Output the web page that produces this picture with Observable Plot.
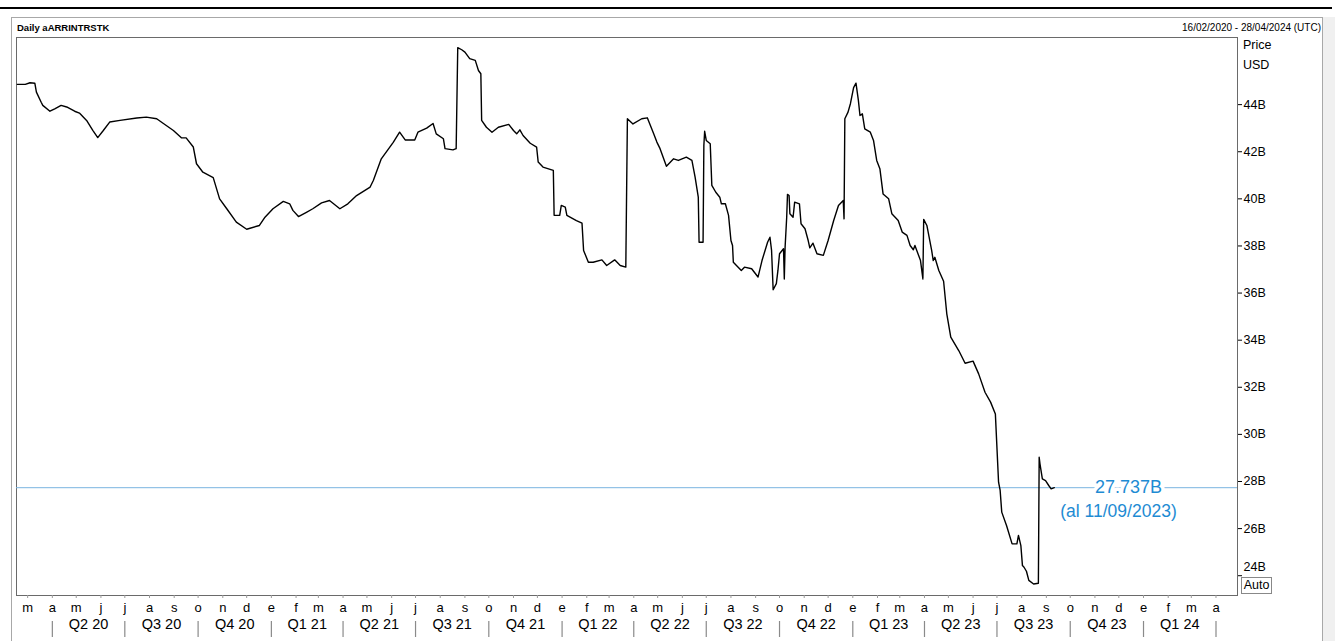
<!DOCTYPE html>
<html><head><meta charset="utf-8">
<script src="https://cdn.jsdelivr.net/npm/d3@7"></script>
<script src="https://cdn.jsdelivr.net/npm/@observablehq/plot@0.6"></script>
<style>
body{margin:0;background:#fff;font-family:"Liberation Sans",Arial,sans-serif;color:#000;}
#wrap{position:relative;width:1335px;height:641px;overflow:hidden;background:#fff;}
.abs{position:absolute;white-space:nowrap;}
</style></head><body>
<div id="wrap">
 <div class="abs" style="left:0;top:6.5px;width:1332px;height:2px;background:#000"></div>
 <div class="abs" style="left:11px;top:17px;width:1310px;height:700px;border:1px solid #a8a8a8;"></div>
 <div class="abs" style="left:1323px;top:17px;width:12px;height:700px;background:#f0f0f0"></div>
 <div id="chart" class="abs" style="left:0;top:0"></div>
 <div class="abs" style="left:17px;top:22px;font-size:9.5px;font-weight:bold;line-height:12px">Daily aARRINTRSTK</div>
 <div class="abs" style="right:14px;top:22px;font-size:10px;line-height:12px">16/02/2020 - 28/04/2024 (UTC)</div>
 <div class="abs" style="left:1243px;top:37px;font-size:12.5px;line-height:16px">Price</div>
 <div class="abs" style="left:1243px;top:57px;font-size:12.5px;line-height:16px">USD</div>
 <div class="abs" style="left:1241px;top:577px;width:29px;height:15px;border:1px solid #888;background:#fff;font-size:12.5px;line-height:15px;text-align:center">Auto</div>
</div>
<script>
const dates = ["2020-02-17","2020-02-27","2020-03-04","2020-03-10","2020-03-12","2020-03-18","2020-03-20","2020-03-29","2020-04-04","2020-04-12","2020-04-19","2020-04-29","2020-05-05","2020-05-14","2020-05-22","2020-05-28","2020-06-04","2020-06-12","2020-06-25","2020-07-16","2020-07-28","2020-08-10","2020-08-18","2020-08-31","2020-09-10","2020-09-16","2020-09-25","2020-09-29","2020-10-07","2020-10-20","2020-10-28","2020-11-06","2020-11-18","2020-12-01","2020-12-17","2020-12-24","2021-01-03","2021-01-16","2021-01-24","2021-01-28","2021-02-04","2021-02-14","2021-02-22","2021-03-05","2021-03-15","2021-03-28","2021-04-07","2021-04-18","2021-05-05","2021-05-09","2021-05-19","2021-06-03","2021-06-11","2021-06-18","2021-06-30","2021-07-04","2021-07-15","2021-07-23","2021-07-27","2021-08-05","2021-08-07","2021-08-17","2021-08-21","2021-08-23","2021-08-28","2021-09-01","2021-09-07","2021-09-14","2021-09-18","2021-09-21","2021-09-22","2021-09-28","2021-10-05","2021-10-13","2021-10-26","2021-11-01","2021-11-05","2021-11-09","2021-11-13","2021-11-22","2021-11-30","2021-12-02","2021-12-08","2021-12-21","2021-12-22","2021-12-29","2021-12-31","2022-01-05","2022-01-07","2022-01-19","2022-01-26","2022-01-28","2022-02-03","2022-02-09","2022-02-20","2022-02-26","2022-03-08","2022-03-15","2022-03-22","2022-03-24","2022-03-31","2022-04-11","2022-04-18","2022-04-26","2022-04-30","2022-05-04","2022-05-12","2022-05-21","2022-05-27","2022-06-06","2022-06-13","2022-06-17","2022-06-21","2022-06-22","2022-06-27","2022-06-28","2022-06-29","2022-07-01","2022-07-06","2022-07-08","2022-07-13","2022-07-18","2022-07-20","2022-07-25","2022-07-29","2022-08-01","2022-08-03","2022-08-04","2022-08-14","2022-08-18","2022-08-27","2022-09-04","2022-09-09","2022-09-16","2022-09-19","2022-09-21","2022-09-23","2022-09-27","2022-09-29","2022-10-01","2022-10-06","2022-10-07","2022-10-08","2022-10-10","2022-10-11","2022-10-13","2022-10-14","2022-10-18","2022-10-20","2022-10-26","2022-10-28","2022-11-02","2022-11-06","2022-11-08","2022-11-12","2022-11-17","2022-11-25","2022-12-01","2022-12-08","2022-12-14","2022-12-20","2022-12-21","2022-12-22","2022-12-26","2022-12-29","2023-01-02","2023-01-05","2023-01-08","2023-01-10","2023-01-13","2023-01-16","2023-01-23","2023-01-27","2023-01-31","2023-02-04","2023-02-08","2023-02-15","2023-02-19","2023-02-27","2023-03-04","2023-03-10","2023-03-14","2023-03-18","2023-03-20","2023-03-27","2023-03-30","2023-03-31","2023-04-04","2023-04-10","2023-04-12","2023-04-14","2023-04-19","2023-04-25","2023-04-29","2023-05-04","2023-05-14","2023-05-22","2023-06-01","2023-06-08","2023-06-16","2023-06-23","2023-06-29","2023-07-03","2023-07-05","2023-07-07","2023-07-13","2023-07-20","2023-07-26","2023-07-28","2023-07-31","2023-08-02","2023-08-04","2023-08-07","2023-08-10","2023-08-16","2023-08-22","2023-08-23","2023-08-24","2023-08-27","2023-08-31","2023-09-04","2023-09-07","2023-09-11"];
const values = [44.86,44.86,44.93,44.91,44.53,44.10,43.97,43.72,43.82,43.97,43.90,43.72,43.64,43.33,42.90,42.60,42.90,43.26,43.33,43.43,43.47,43.40,43.21,42.90,42.59,42.59,42.20,41.49,41.13,40.90,40.00,39.58,39.01,38.71,38.87,39.22,39.58,39.89,39.79,39.51,39.25,39.43,39.58,39.83,39.93,39.58,39.79,40.14,40.50,40.78,41.70,42.40,42.83,42.50,42.50,42.83,43.00,43.20,42.76,42.55,42.13,42.08,42.13,46.42,46.33,46.23,45.95,45.88,45.45,45.31,43.33,43.04,42.83,43.04,43.16,42.90,42.76,42.93,42.69,42.36,42.20,41.56,41.35,41.21,39.30,39.30,39.72,39.65,39.30,39.08,38.97,37.81,37.31,37.31,37.41,37.17,37.41,37.17,37.10,43.40,43.18,43.40,43.44,42.76,42.41,42.13,41.38,41.70,41.63,41.77,41.63,40.92,40.07,38.16,38.16,42.27,42.87,42.48,42.34,40.57,40.28,40.07,39.79,39.79,39.30,38.23,38.02,37.31,36.96,37.10,37.03,36.68,37.38,38.16,38.37,37.81,36.14,36.40,36.96,37.67,37.88,36.60,37.95,39.22,40.19,40.14,39.37,39.22,39.86,39.79,38.94,38.73,38.23,37.92,38.12,37.67,37.60,38.23,39.08,39.72,39.93,39.15,43.40,43.68,44.04,44.72,44.91,44.18,43.54,43.61,42.97,42.83,42.48,41.63,41.28,40.21,40.00,39.37,39.08,38.59,38.45,38.02,37.84,38.02,37.38,36.60,39.13,38.87,37.81,37.38,37.52,36.96,36.50,35.12,34.13,33.56,33.02,33.11,32.57,31.79,31.37,30.87,27.97,27.62,26.70,26.13,25.35,25.35,25.71,25.28,24.43,24.36,24.19,23.80,23.65,23.68,29.03,28.75,28.11,28.04,27.83,27.69,27.737];

const monthLetters = ["e","f","m","a","m","j","j","a","s","o","n","d"];
const quarterLabels = ["Q2 20","Q3 20","Q4 20","Q1 21","Q2 21","Q3 21","Q4 21","Q1 22","Q2 22","Q3 22","Q4 22","Q1 23","Q2 23","Q3 23","Q4 23","Q1 24"];
const yTicks = [24,26,28,30,32,34,36,38,40,42,44];
const lastValue = [27.737];
const lastLabel = ["(al 11/09/2023)"];
const dateRange = ["2020-02-16","2024-04-28"];

const data = dates.map((d, i) => ({date: new Date(d), value: values[i]}));
const monthTicks = d3.utcMonth.range(new Date("2020-03-01"), new Date("2024-04-02"));
const quarterStarts = d3.utcMonth.every(3).range(new Date("2020-04-01"), new Date("2024-04-02"));
const quarterMid = (d, i) => new Date((+quarterStarts[i] + +quarterStarts[i + 1]) / 2);

const chart = Plot.plot({
  width: 1335, height: 641,
  marginLeft: 16, marginRight: 98, marginTop: 37, marginBottom: 46,
  style: {fontFamily: "'Liberation Sans', Arial, sans-serif", fontSize: "12.5px", color: "#000", background: "transparent", overflow: "visible"},
  x: {type: "utc", domain: dateRange.map(d => new Date(d))},
  y: {domain: [23.16, 46.85]},
  marks: [
    Plot.frame({stroke: "#6a6a6a"}),
    Plot.axisY(yTicks, {anchor: "right", tickSize: 4, tickPadding: 2, label: null, fontSize: 12.5, tickFormat: d => d === 24 ? "" : d + "B"}),
    Plot.text([24], {y: d => d, frameAnchor: "right", dx: 6, dy: -9, textAnchor: "start", text: d => d + "B", fontSize: 12.5}),
    Plot.axisX(monthTicks, {anchor: "bottom", tickSize: 3, tickPadding: 4, label: null, fontSize: 13, stroke: "#9a9a9a", fill: "#000", tickFormat: d => monthLetters[d.getUTCMonth()]}),
    Plot.ruleX(quarterStarts, {stroke: "#8a8a8a", strokeWidth: 1.2, insetTop: 584, insetBottom: -42}),
    Plot.text(quarterLabels, {x: quarterMid, text: d => d, frameAnchor: "bottom", dy: 33, fontSize: 14.5}),
    Plot.ruleY(lastValue, {stroke: "#7ab4e0", strokeWidth: 1}),
    Plot.line(data, {x: "date", y: "value", stroke: "#000", strokeWidth: 1.4}),
    Plot.text(lastValue, {y: d => d, frameAnchor: "right", textAnchor: "middle", dx: -109, text: d => d.toFixed(3) + "B", fill: "#1e8bd3", stroke: "white", strokeWidth: 7, fontSize: 18}),
    Plot.text(lastValue, {y: d => d, frameAnchor: "right", textAnchor: "middle", dx: -119, dy: 24, text: (d, i) => lastLabel[i], fill: "#1e8bd3", fontSize: 17.5})
  ]
});
document.getElementById("chart").appendChild(chart);
</script>
</body></html>
